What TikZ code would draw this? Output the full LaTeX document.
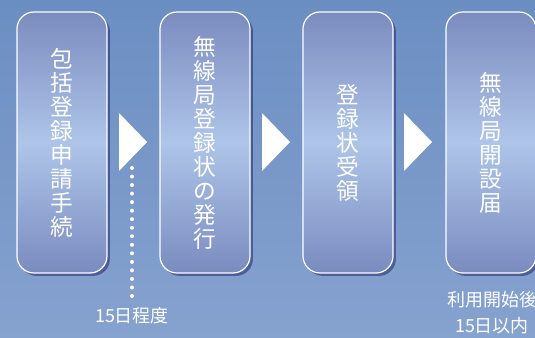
\documentclass[tikz,border=0pt]{standalone}
\usepackage{fontspec}
\newfontfamily\jp{Noto Sans CJK JP}
\usepackage{tikz}
\usetikzlibrary{shadows}
\definecolor{bgtop}{HTML}{6B8EC2}
\definecolor{bgbot}{HTML}{86A2CF}
\definecolor{boxtop}{HTML}{7B8BBF}
\definecolor{boxmid}{HTML}{AEC5E9}
\definecolor{boxbot}{HTML}{7A8BBF}

\begin{document}
\begin{tikzpicture}[x=0.75pt, y=-0.75pt,
		proc/.style={rectangle, rounded corners=12.75pt, draw=white, line width=0.9pt,
			top color=boxtop, bottom color=boxbot, middle color=boxmid,
			minimum width=67.5pt, minimum height=195.75pt, inner sep=0pt,
			text=white, align=center, font=\jp\fontsize{17pt}{18pt}\selectfont,
			drop shadow={shadow xshift=2.2pt, shadow yshift=-2.2pt, opacity=0.4, fill=black!70!blue}},
		note/.style={text=white, align=center, inner sep=0pt, font=\jp\fontsize{13.5pt}{19.5pt}\selectfont},
		pointer/.style={fill=white},
		dots/.style={draw=white, line width=3pt, line cap=round, dash pattern=on 0pt off 6.4pt}]
		\useasboundingbox (0,0) rectangle (535,338);
		\shade[top color=bgtop, bottom color=bgbot] (0,0) rectangle (535,338);
		
		\node[proc] (1) at (62,142.5) {包\\括\\登\\録\\申\\請\\手\\続};
		\node[proc] (2) at (205,142.5) {無\\線\\局\\登\\録\\状\\の\\発\\行};
		\node[proc] (3) at (348,142.5) {登\\録\\状\\受\\領};
		\node[proc] (4) at (491,142.5) {無\\線\\局\\開\\設\\届};
		\node[note] (5) at (132,316) {15日程度};
		\node[note] (6) at (492,313) {利用開始後\\15日以内};
		\coordinate (d) at (132,168);
		
		\fill[pointer] (119,113) -- (147,142) -- (119,171) -- cycle;
		\fill[pointer] (262,113) -- (290,142) -- (262,171) -- cycle;
		\fill[pointer] (404,113) -- (432,142) -- (404,171) -- cycle;
		
		\path[dots] (d) -- ([yshift=6pt]5.north);
		
	\end{tikzpicture}
\end{document}
